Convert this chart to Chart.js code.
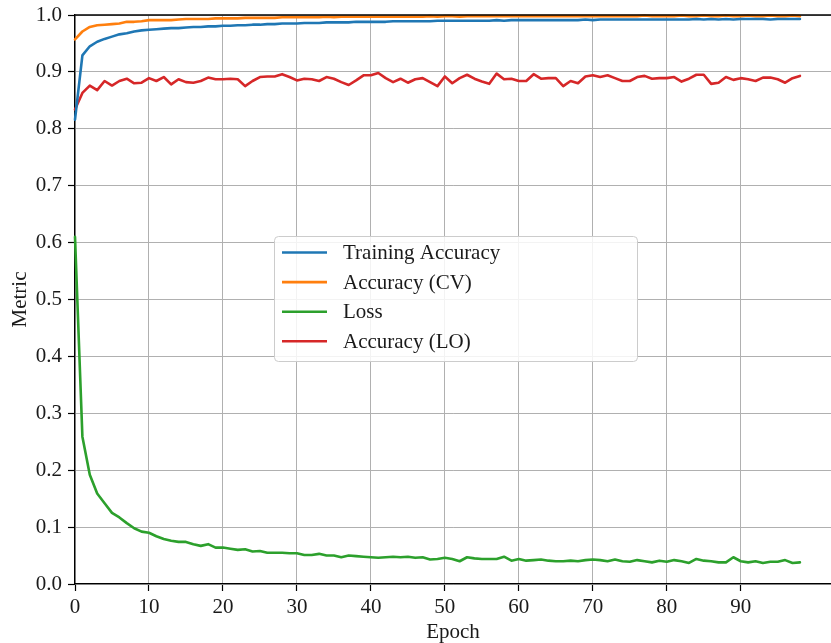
<!DOCTYPE html>
<html>
<head>
<meta charset="utf-8">
<script src="https://cdn.jsdelivr.net/npm/chart.js@4/dist/chart.umd.min.js"></script>
<style>
  html, body { margin: 0; padding: 0; background: #fff; overflow: hidden; }
  #wrap { width: 831px; height: 643px; position: relative; }
</style>
</head>
<body>
<div id="wrap"><canvas id="c" width="831" height="643"></canvas></div>
<script>
// Epoch index for every recorded value
const epochs = Array.from({ length: 99 }, (_, i) => i);

const trainingAccuracy = [
  0.816, 0.929, 0.945, 0.953, 0.958, 0.962, 0.966, 0.968, 0.971, 0.973,
  0.974, 0.975, 0.976, 0.977, 0.977, 0.978, 0.979, 0.979, 0.980, 0.980,
  0.981, 0.981, 0.982, 0.982, 0.983, 0.983, 0.984, 0.984, 0.985, 0.985,
  0.985, 0.986, 0.986, 0.986, 0.987, 0.987, 0.987, 0.987, 0.988, 0.988,
  0.988, 0.988, 0.988, 0.989, 0.989, 0.989, 0.989, 0.989, 0.989, 0.990,
  0.990, 0.990, 0.990, 0.990, 0.990, 0.990, 0.990, 0.991, 0.990, 0.991,
  0.991, 0.991, 0.991, 0.991, 0.991, 0.991, 0.991, 0.991, 0.991, 0.992,
  0.991, 0.992, 0.992, 0.992, 0.992, 0.992, 0.992, 0.992, 0.992, 0.992,
  0.992, 0.992, 0.992, 0.992, 0.993, 0.992, 0.993, 0.992, 0.993, 0.992,
  0.993, 0.993, 0.993, 0.993, 0.992, 0.993, 0.993, 0.993, 0.993
];

const accuracyCV = [
  0.957, 0.971, 0.979, 0.982, 0.983, 0.984, 0.985, 0.988, 0.988, 0.989,
  0.991, 0.991, 0.991, 0.991, 0.992, 0.993, 0.993, 0.993, 0.993, 0.994,
  0.994, 0.994, 0.994, 0.995, 0.995, 0.995, 0.995, 0.995, 0.996, 0.996,
  0.996, 0.996, 0.996, 0.996, 0.997, 0.996, 0.997, 0.997, 0.997, 0.997,
  0.997, 0.997, 0.997, 0.997, 0.997, 0.997, 0.997, 0.997, 0.998, 0.997,
  0.998, 0.998, 0.997, 0.998, 0.998, 0.998, 0.998, 0.998, 0.998, 0.998,
  0.998, 0.998, 0.998, 0.998, 0.998, 0.998, 0.998, 0.998, 0.998, 0.998,
  0.998, 0.998, 0.998, 0.998, 0.998, 0.998, 0.998, 0.999, 0.998, 0.998,
  0.998, 0.998, 0.999, 0.998, 0.998, 0.999, 0.998, 0.998, 0.999, 0.998,
  0.998, 0.999, 0.998, 0.998, 0.999, 0.998, 0.998, 0.999, 0.998
];

const loss = [
  0.610, 0.259, 0.192, 0.159, 0.142, 0.125, 0.117, 0.107, 0.098, 0.092,
  0.090, 0.084, 0.079, 0.076, 0.074, 0.074, 0.070, 0.067, 0.070, 0.064,
  0.064, 0.062, 0.060, 0.061, 0.057, 0.058, 0.055, 0.055, 0.055, 0.054,
  0.054, 0.051, 0.051, 0.053, 0.050, 0.050, 0.047, 0.050, 0.049, 0.048,
  0.047, 0.046, 0.047, 0.048, 0.047, 0.048, 0.046, 0.047, 0.043, 0.044,
  0.046, 0.044, 0.040, 0.047, 0.045, 0.044, 0.044, 0.044, 0.048, 0.041,
  0.044, 0.041, 0.042, 0.043, 0.041, 0.040, 0.040, 0.041, 0.040, 0.042,
  0.043, 0.042, 0.040, 0.043, 0.040, 0.039, 0.042, 0.040, 0.038, 0.041,
  0.039, 0.042, 0.040, 0.037, 0.044, 0.041, 0.040, 0.038, 0.038, 0.047,
  0.040, 0.038, 0.040, 0.037, 0.039, 0.039, 0.042, 0.037, 0.038
];

const accuracyLO = [
  0.834, 0.863, 0.876, 0.868, 0.884, 0.876, 0.884, 0.888, 0.880, 0.881,
  0.889, 0.884, 0.891, 0.878, 0.887, 0.882, 0.881, 0.884, 0.890, 0.887,
  0.887, 0.888, 0.887, 0.875, 0.884, 0.891, 0.892, 0.892, 0.896, 0.891,
  0.885, 0.888, 0.887, 0.884, 0.891, 0.888, 0.882, 0.877, 0.885, 0.894,
  0.894, 0.898, 0.889, 0.882, 0.888, 0.881, 0.887, 0.889, 0.882, 0.875,
  0.892, 0.880, 0.889, 0.895, 0.888, 0.883, 0.879, 0.897, 0.887, 0.888,
  0.884, 0.884, 0.896, 0.888, 0.889, 0.889, 0.875, 0.884, 0.880, 0.892,
  0.894, 0.891, 0.894, 0.889, 0.884, 0.884, 0.891, 0.893, 0.888, 0.889,
  0.889, 0.891, 0.883, 0.888, 0.895, 0.895, 0.879, 0.881, 0.891, 0.886,
  0.889, 0.887, 0.884, 0.890, 0.890, 0.887, 0.881, 0.889, 0.893
];

const seriesNames = ['Training Accuracy', 'Accuracy (CV)', 'Loss', 'Accuracy (LO)'];
const seriesColors = ['#1f77b4', '#ff7f0e', '#2ca02c', '#d62728'];
const xTickValues = [0, 10, 20, 30, 40, 50, 60, 70, 80, 90];
const yTickValues = [0, 0.1, 0.2, 0.3, 0.4, 0.5, 0.6, 0.7, 0.8, 0.9, 1.0];

const FONT = "'Liberation Serif', 'DejaVu Serif', serif";
const FONT_SIZE = 21;
const INK = '#1a1a1a';

const toPoints = vals => vals.map((v, i) => ({ x: epochs[i], y: v }));
const allSeries = [trainingAccuracy, accuracyCV, loss, accuracyLO];

const datasets = allSeries.map((vals, k) => ({
  label: seriesNames[k],
  data: toPoints(vals),
  borderColor: seriesColors[k],
  backgroundColor: seriesColors[k],
  borderWidth: 2.6,
  pointRadius: 0,
  tension: 0,
  borderJoinStyle: 'round',
  borderCapStyle: 'round',
  clip: false
}));

// Top spine and the boxed legend inside the plot
const framePlugin = {
  id: 'frame',
  afterDraw(chart) {
    const { ctx, chartArea } = chart;
    ctx.save();
    ctx.strokeStyle = '#000';
    ctx.lineWidth = 1.3;
    ctx.beginPath();
    ctx.moveTo(chartArea.left, chartArea.top);
    ctx.lineTo(chartArea.right, chartArea.top);
    ctx.stroke();

    // legend box
    const bx = 274, by = 236, bw = 363, bh = 125, r = 4;
    ctx.beginPath();
    ctx.roundRect(bx + 0.5, by + 0.5, bw, bh, r);
    ctx.fillStyle = 'rgba(255,255,255,0.85)';
    ctx.fill();
    ctx.strokeStyle = '#cccccc';
    ctx.lineWidth = 1;
    ctx.stroke();

    ctx.font = FONT_SIZE + 'px ' + FONT;
    ctx.textBaseline = 'middle';
    ctx.textAlign = 'left';
    chart.data.datasets.forEach((ds, k) => {
      const y = 252.5 + k * 29.6;
      ctx.strokeStyle = ds.borderColor;
      ctx.lineWidth = 2.6;
      ctx.beginPath();
      ctx.moveTo(282, y);
      ctx.lineTo(327, y);
      ctx.stroke();
      ctx.fillStyle = INK;
      ctx.fillText(ds.label, 343, y + 1);
    });
    ctx.restore();
  }
};

new Chart(document.getElementById('c'), {
  type: 'line',
  data: { datasets },
  plugins: [framePlugin],
  options: {
    responsive: false,
    animation: false,
    layout: { padding: { left: 0, top: 15, right: 0, bottom: 0 } },
    plugins: {
      legend: { display: false },
      tooltip: { enabled: false }
    },
    scales: {
      x: {
        type: 'linear',
        min: 0,
        max: 102.2,
        afterBuildTicks: scale => { scale.ticks = xTickValues.map(v => ({ value: v })); },
        afterFit: scale => { scale.height = 59; scale.paddingLeft = 0; scale.paddingRight = 0; },
        ticks: {
          color: INK,
          font: { family: FONT, size: FONT_SIZE },
          padding: 4,
          maxRotation: 0,
          callback: v => String(v)
        },
        grid: {
          color: '#b0b0b0',
          lineWidth: 1,
          tickColor: '#000',
          tickLength: 7,
          tickWidth: 1.2
        },
        border: { display: true, color: '#000', width: 1.3 },
        title: {
          display: true,
          text: 'Epoch',
          color: INK,
          font: { family: FONT, size: FONT_SIZE, lineHeight: 1.0 },
          padding: { top: 0, bottom: 0 }
        }
      },
      y: {
        min: 0,
        max: 1.0,
        afterBuildTicks: scale => { scale.ticks = yTickValues.map(v => ({ value: v })); },
        afterFit: scale => { scale.width = 75; scale.paddingTop = 0; scale.paddingBottom = 0; },
        ticks: {
          color: INK,
          font: { family: FONT, size: FONT_SIZE },
          padding: 6,
          callback: v => Number(v).toFixed(1)
        },
        grid: {
          color: '#b0b0b0',
          lineWidth: 1,
          tickColor: '#000',
          tickLength: 7,
          tickWidth: 1.2
        },
        border: { display: true, color: '#000', width: 1.3 },
        title: {
          display: true,
          text: 'Metric',
          color: INK,
          font: { family: FONT, size: FONT_SIZE },
          padding: { top: 8, bottom: 0 }
        }
      }
    }
  }
});
</script>
</body>
</html>
